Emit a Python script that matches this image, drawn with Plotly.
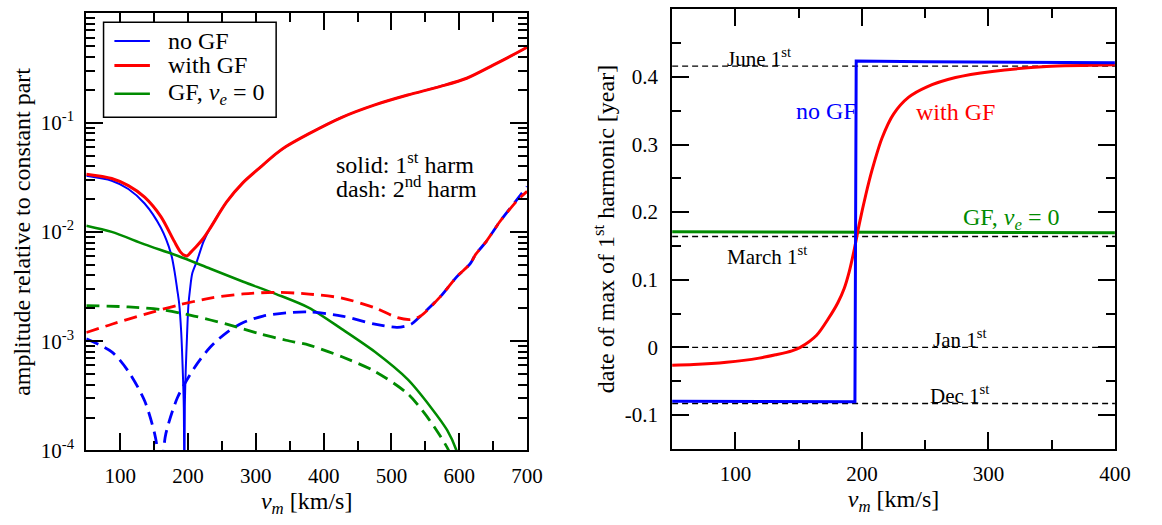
import plotly.graph_objects as go

FONT = "Liberation Serif, Times New Roman, serif"
BLUE = "#0000ff"
RED = "#ff0000"
GREEN = "#008b00"

# ---------------- left panel data (amplitude vs v_m) ----------------
v_nogf_1 = [50, 87.5, 112, 136, 160, 175, 180, 184, 187, 190, 192.3, 193.8, 194.6, 195.3,
            196.6, 198.5, 200.5, 203, 206.4, 213.6, 223, 233, 257, 281.5, 305.7, 330, 344.5,
            378.5, 427, 475.5, 524, 572.5, 611, 650, 694, 700]
a_nogf_1 = [0.0326, 0.0294, 0.0247, 0.0182, 0.0109, 0.0063, 0.0044, 0.0030, 0.0022, 0.0012,
            5.3e-4, 2.5e-4, 3e-5, 2.5e-4, 5.3e-4, 0.0011, 0.0021, 0.0030, 0.0042, 0.0055,
            0.0082, 0.0109, 0.0188, 0.0284, 0.0386, 0.052, 0.0604, 0.0794, 0.112, 0.1455,
            0.179, 0.215, 0.255, 0.336, 0.467, 0.49]

v_gf_1 = [50, 87.5, 112, 136, 160, 179.7, 189.4, 195, 199, 205, 213.6, 223, 233, 257, 281.5,
          305.7, 330, 344.5, 378.5, 427, 475.5, 524, 572.5, 611, 650, 694, 700]
a_gf_1 = [0.0337, 0.0308, 0.0265, 0.0208, 0.0138, 0.0082, 0.0065, 0.0061, 0.00605, 0.0066,
          0.0075, 0.0088, 0.0109, 0.0188, 0.0284, 0.0386, 0.052, 0.0604, 0.0794, 0.112,
          0.1455, 0.179, 0.215, 0.255, 0.336, 0.467, 0.49]

v_ve0_1 = [50, 87.5, 136, 184.5, 233, 281.5, 330, 378.5, 427, 475.5, 524, 558, 582, 596, 600]
a_ve0_1 = [0.0114, 0.0100, 0.0077, 0.00605, 0.0046, 0.0035, 0.0027, 0.00202, 0.00129,
           8.0e-4, 4.47e-4, 2.49e-4, 1.54e-4, 1.0e-4, 8e-5]

v_nogf_2 = [50, 87.5, 112, 136, 150.6, 155, 158.5, 160, 161.5, 164, 167.5, 184.5, 209, 233,
            257, 281.5, 310.7, 344.5, 378.5, 427, 475.5, 509, 529, 543, 572.5, 596.6, 616,
            624, 640, 650, 660, 686, 700]
a_nogf_2 = [1.05e-3, 8.0e-4, 5.3e-4, 2.85e-4, 1.44e-4, 1.0e-4, 4e-5, 2e-5, 4e-5, 1.0e-4,
            1.44e-4, 3.05e-4, 5.66e-4, 8.86e-4, 1.2e-3, 1.48e-3, 1.7e-3, 1.82e-3, 1.85e-3,
            1.7e-3, 1.43e-3, 1.34e-3, 1.43e-3, 1.7e-3, 2.57e-3, 3.9e-3, 5.1e-3, 6.2e-3,
            8.2e-3, 1.01e-2, 1.245e-2, 2.01e-2, 2.6e-2]

v_gf_2 = [50, 87.5, 136, 184.5, 233, 281.5, 330, 378.5, 427, 475.5, 509, 529, 543, 572.5,
          596.6, 616, 624, 640, 650, 660, 686, 700]
a_gf_2 = [1.2e-3, 1.43e-3, 1.76e-3, 2.13e-3, 2.48e-3, 2.71e-3, 2.8e-3, 2.7e-3, 2.48e-3,
          2.02e-3, 1.64e-3, 1.58e-3, 1.7e-3, 2.57e-3, 3.9e-3, 5.1e-3, 6.2e-3, 8.2e-3,
          1.01e-2, 1.245e-2, 1.95e-2, 2.35e-2]

v_ve0_2 = [50, 112, 160, 209, 257, 305.7, 344.5, 378.5, 427, 475.5, 524, 553, 572.5, 584.5, 590]
a_ve0_2 = [2.12e-3, 2.06e-3, 1.95e-3, 1.7e-3, 1.43e-3, 1.17e-3, 1.02e-3, 9.2e-4, 7.2e-4,
           5.3e-4, 3.3e-4, 2.02e-4, 1.34e-4, 1.0e-4, 8e-5]

# ---------------- right panel data (date of max) ----------------
v_date_gf = [50, 67, 93, 118.8, 131.8, 144.7, 151.3, 164.2, 173.3, 181, 186, 190, 194, 198,
             203, 208, 216, 225, 237, 251, 274, 303, 346, 400]
d_date_gf = [-0.0264, -0.0255, -0.0221, -0.0159, -0.011, -0.0052, 0.0, 0.0179, 0.0419, 0.066,
             0.087, 0.112, 0.145, 0.183, 0.225, 0.262, 0.31, 0.345, 0.37, 0.385, 0.399, 0.408,
             0.4153, 0.418]
v_date_nogf = [50, 120, 194.5, 195.5, 250, 400]
d_date_nogf = [-0.0795, -0.080, -0.0805, 0.4235, 0.4225, 0.421]
v_date_ve0 = [50, 400]
d_date_ve0 = [0.171, 0.1695]

ref_names = ["June 1<sup>st</sup>", "March 1<sup>st</sup>", "Jan 1<sup>st</sup>", "Dec 1<sup>st</sup>"]
ref_dates = [0.416, 0.164, 0.0, -0.083]
ref_span = [50, 400]

# tick labels
left_xticks = [100, 200, 300, 400, 500, 600, 700]
left_yticks = [1e-4, 1e-3, 1e-2, 1e-1, 1]
left_yticktext = ["10<sup>-4</sup>", "10<sup>-3</sup>", "10<sup>-2</sup>", "10<sup>-1</sup>", "10<sup>0</sup>"]
right_xticks = [100, 200, 300, 400]
right_yticks = [-0.1, 0, 0.1, 0.2, 0.3, 0.4, 0.5]
right_yticktext = ["-0.1", "0", "0.1", "0.2", "0.3", "0.4", "0.5"]

legend_names = ["no GF", "with GF", "GF, <i>v</i><sub><i>e</i></sub> = 0"]
legend_colors = [BLUE, RED, GREEN]
legend_widths = [2, 3, 2.5]

fig = go.Figure()

SPL = dict(shape="spline", smoothing=0.8)

# left panel traces
fig.add_trace(go.Scatter(x=v_nogf_1, y=a_nogf_1, mode="lines", name=legend_names[0],
                         line=dict(color=BLUE, width=2, **SPL), xaxis="x", yaxis="y"))
fig.add_trace(go.Scatter(x=v_gf_1, y=a_gf_1, mode="lines", name=legend_names[1],
                         line=dict(color=RED, width=3, **SPL), xaxis="x", yaxis="y"))
fig.add_trace(go.Scatter(x=v_ve0_1, y=a_ve0_1, mode="lines", name=legend_names[2],
                         line=dict(color=GREEN, width=2.5, **SPL), xaxis="x", yaxis="y"))
fig.add_trace(go.Scatter(x=v_nogf_2, y=a_nogf_2, mode="lines", name="no GF (2nd)",
                         line=dict(color=BLUE, width=2.8, dash="13px,7px", **SPL),
                         xaxis="x", yaxis="y"))
fig.add_trace(go.Scatter(x=v_gf_2, y=a_gf_2, mode="lines", name="with GF (2nd)",
                         line=dict(color=RED, width=2.8, dash="13px,7px", **SPL),
                         xaxis="x", yaxis="y"))
fig.add_trace(go.Scatter(x=v_ve0_2, y=a_ve0_2, mode="lines", name="GF, ve=0 (2nd)",
                         line=dict(color=GREEN, width=2.8, dash="13px,7px", **SPL),
                         xaxis="x", yaxis="y"))

# right panel traces
for d in ref_dates:
    fig.add_trace(go.Scatter(x=ref_span, y=[d, d], mode="lines",
                             line=dict(color="black", width=1.3, dash="6px,4px"),
                             xaxis="x2", yaxis="y2"))
fig.add_trace(go.Scatter(x=v_date_ve0, y=d_date_ve0, mode="lines",
                         line=dict(color=GREEN, width=3), xaxis="x2", yaxis="y2"))
fig.add_trace(go.Scatter(x=v_date_gf, y=d_date_gf, mode="lines",
                         line=dict(color=RED, width=3, **SPL), xaxis="x2", yaxis="y2"))
fig.add_trace(go.Scatter(x=v_date_nogf, y=d_date_nogf, mode="lines",
                         line=dict(color=BLUE, width=3), xaxis="x2", yaxis="y2"))

axis_common = dict(showline=True, linecolor="black", linewidth=2, mirror="ticks",
                   ticks="inside", ticklen=17, tickwidth=1.5, tickcolor="black",
                   showgrid=False, zeroline=False,
                   tickfont=dict(family=FONT, size=21, color="black"))

fig.update_layout(
    width=1162, height=525,
    margin=dict(l=0, r=0, t=0, b=0),
    paper_bgcolor="white", plot_bgcolor="white",
    font=dict(family=FONT, color="black"),
    showlegend=False,
    xaxis=dict(domain=[87.5 / 1162, 534.4 / 1162], range=[50, 700], anchor="y",
               tickmode="array", tickvals=left_xticks, ticklabelstandoff=5,
               minor=dict(ticks="inside", ticklen=9, tickwidth=1.5, tickcolor="black",
                          dtick=50, tick0=50, showgrid=False),
               title=dict(text="<i>v</i><sub><i>m</i></sub> [km/s]",
                          font=dict(family=FONT, size=24), standoff=4),
               **axis_common),
    yaxis=dict(domain=[1 - 461 / 525, 1 - 13.7 / 525], type="log", range=[-4, 0], anchor="x",
               tickmode="array", tickvals=left_yticks, ticktext=left_yticktext,
               ticklabelstandoff=6,
               minor=dict(ticks="inside", ticklen=9, tickwidth=1.5, tickcolor="black",
                          tickmode="array",
                          tickvals=[m * 10 ** e for e in range(-4, 0) for m in range(2, 10)],
                          showgrid=False),
               title=dict(text="amplitude relative to constant part",
                          font=dict(family=FONT, size=24), standoff=3),
               **axis_common),
    xaxis2=dict(domain=[681.5 / 1162, 1130.5 / 1162], range=[50, 400], anchor="y2",
                tickmode="array", tickvals=right_xticks, ticklabelstandoff=5,
                minor=dict(ticks="inside", ticklen=9, tickwidth=1.5, tickcolor="black",
                           dtick=50, tick0=50, showgrid=False),
                title=dict(text="<i>v</i><sub><i>m</i></sub> [km/s]",
                           font=dict(family=FONT, size=24), standoff=4),
                **axis_common),
    yaxis2=dict(domain=[1 - 459.3 / 525, 1 - 9.5 / 525], range=[-0.15, 0.5], anchor="x2",
                tickmode="array", tickvals=right_yticks, ticktext=right_yticktext,
                ticklabelstandoff=8,
                minor=dict(ticks="inside", ticklen=9, tickwidth=1.5, tickcolor="black",
                           dtick=0.1, tick0=-0.05, showgrid=False),
                title=dict(text="date of max of 1<sup>st</sup> harmonic [year]",
                           font=dict(family=FONT, size=24), standoff=3),
                **axis_common),
)

W, H = 1162.0, 525.0
shapes = []
ann = []
# legend box (drawn in page coordinates)
shapes.append(dict(type="rect", xref="paper", yref="paper",
                   x0=105 / W, x1=280 / W, y0=1 - 120 / H, y1=1 - 22.7 / H,
                   line=dict(color="black", width=1.5), fillcolor="white", layer="above"))
legend_rows = [42, 67, 96]
for name, col, wd, row in zip(legend_names, legend_colors, legend_widths, legend_rows):
    shapes.append(dict(type="line", xref="paper", yref="paper",
                       x0=116 / W, x1=152 / W, y0=1 - row / H, y1=1 - row / H,
                       line=dict(color=col, width=wd), layer="above"))
    ann.append(dict(text=name, x=168 / W, y=1 - row / H, xref="paper", yref="paper",
                    xanchor="left", yanchor="middle", showarrow=False,
                    font=dict(family=FONT, size=24, color="black")))

# left panel notes
ann.append(dict(text="solid: 1<sup>st</sup> harm", x=414.8, y=-1.371, xref="x", yref="y",
                xanchor="left", yanchor="middle", showarrow=False,
                font=dict(family=FONT, size=24, color="black")))
ann.append(dict(text="dash: 2<sup>nd</sup> harm", x=414.8, y=-1.590, xref="x", yref="y",
                xanchor="left", yanchor="middle", showarrow=False,
                font=dict(family=FONT, size=24, color="black")))
# right panel reference labels
ref_pos = [(118.8, 0.428), (125, 0.136), (277.5, 0.0129), (277, -0.069)]
for name, (px, py) in zip(ref_names, ref_pos):
    ann.append(dict(text=name, x=px, y=py, xref="x2", yref="y2", xanchor="center",
                    yanchor="middle", showarrow=False,
                    font=dict(family=FONT, size=21, color="black")))
ann.append(dict(text="no GF", x=172, y=0.349, xref="x2", yref="y2", showarrow=False,
                font=dict(family=FONT, size=24, color=BLUE)))
ann.append(dict(text="with GF", x=274, y=0.3485, xref="x2", yref="y2", showarrow=False,
                font=dict(family=FONT, size=24, color=RED)))
ann.append(dict(text="GF, <i>v</i><sub><i>e</i></sub> = 0", x=318, y=0.19, xref="x2",
                yref="y2", showarrow=False, font=dict(family=FONT, size=24, color=GREEN)))
fig.update_layout(annotations=ann, shapes=shapes)

fig.write_html("out.html")
